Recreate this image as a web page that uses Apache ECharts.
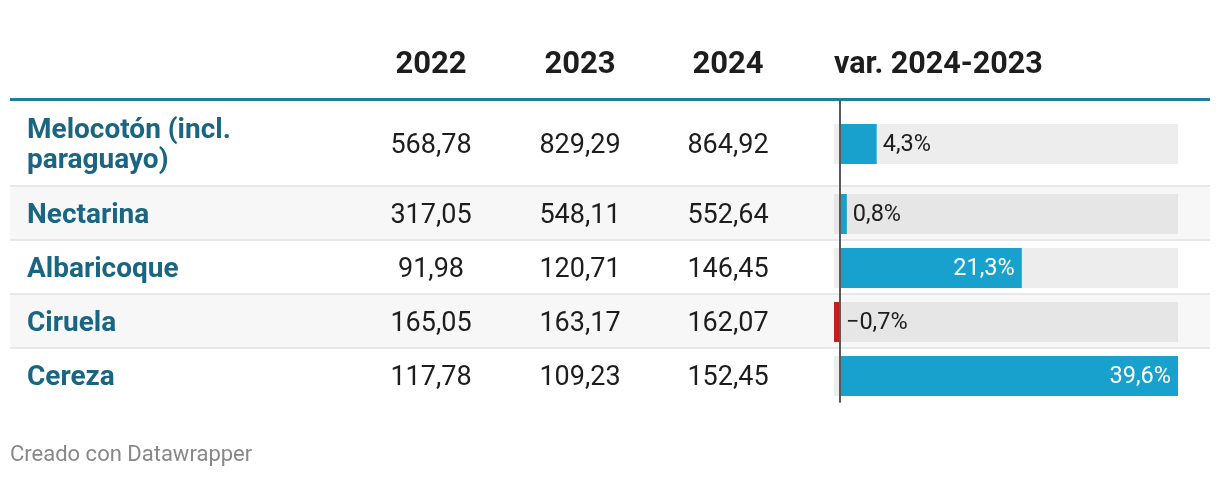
<!DOCTYPE html>
<html>
<head>
<meta charset="utf-8">
<script src="https://cdn.jsdelivr.net/npm/echarts@6/dist/echarts.min.js"></script>
<style>
  html, body { margin: 0; padding: 0; background: #ffffff; }
  #chart { width: 1220px; height: 478px; }
</style>
</head>
<body>
<div id="chart"></div>
<script>
// ---------- data ----------
const products = ['Melocotón (incl. paraguayo)', 'Nectarina', 'Albaricoque', 'Ciruela', 'Cereza'];
const years = ['2022', '2023', '2024'];
const v2022 = [568.78, 317.05, 91.98, 165.05, 117.78];
const v2023 = [829.29, 548.11, 120.71, 163.17, 109.23];
const v2024 = [864.92, 552.64, 146.45, 162.07, 152.45];
const varPct = [4.3, 0.8, 21.3, -0.7, 39.6];
const varHeader = 'var. 2024-2023';
const footer = 'Creado con Datawrapper';

// ---------- layout / style ----------
const FONT = 'Roboto, "Noto Sans", sans-serif';
const LABEL_COLOR = '#1a6581';
const TEXT_COLOR = '#1d1d1d';
const HEADER_LINE = '#1c7f9f';
const BLUE = '#18a1cd';
const RED = '#c71e1d';
const rowHeights = [86, 54, 54, 54, 54];
const tableTop = 101;
const colCenters = [431, 580, 728];
const barLeft = 834, barWidth = 344, barH = 40;
const TEXT_SHIFT = 2;

const rowTops = [];
let acc = tableTop;
rowHeights.forEach(h => { rowTops.push(acc); acc += h; });
const rowCenters = rowTops.map((t, i) => t + rowHeights[i] / 2);
const tableBottom = acc;

const fmt = v => v.toFixed(2).replace('.', ',');
const fmtPct = v => (v < 0 ? '\u2212' : '') + Math.abs(v).toFixed(1).replace('.', ',') + '%';

const xMin = Math.min(...varPct), xMax = Math.max(...varPct);

const graphic = [];
// row backgrounds and separators
rowTops.forEach((t, i) => {
  if (i % 2 === 1) {
    graphic.push({ type: 'rect', z: -10, shape: { x: 10, y: t, width: 1200, height: rowHeights[i] - 2 }, style: { fill: '#f7f7f7' } });
  }
  if (i < products.length - 1) {
    graphic.push({ type: 'rect', z: -10, shape: { x: 10, y: t + rowHeights[i] - 2, width: 1200, height: 2 }, style: { fill: '#e8e8e8' } });
  }
});
// header line
graphic.push({ type: 'rect', shape: { x: 10, y: 98, width: 1200, height: 3 }, style: { fill: HEADER_LINE } });
// header texts
years.forEach((y, j) => {
  graphic.push({ type: 'text', x: colCenters[j], y: 65, style: { text: y, font: 'bold 31px ' + FONT, fill: TEXT_COLOR, align: 'center', verticalAlign: 'middle' } });
});
graphic.push({ type: 'text', x: barLeft, y: 65, style: { text: varHeader, font: 'bold 30.5px ' + FONT, fill: TEXT_COLOR, align: 'left', verticalAlign: 'middle' } });
// row texts
const cols = [v2022, v2023, v2024];
products.forEach((p, i) => {
  graphic.push({ type: 'text', x: 27, y: rowCenters[i] + TEXT_SHIFT, style: { text: p, width: 300, overflow: 'break', lineHeight: 30, font: 'bold 28px ' + FONT, fill: LABEL_COLOR, align: 'left', verticalAlign: 'middle' } });
  cols.forEach((arr, j) => {
    graphic.push({ type: 'text', x: colCenters[j], y: rowCenters[i] + TEXT_SHIFT, style: { text: fmt(arr[i]), font: '27px ' + FONT, fill: TEXT_COLOR, align: 'center', verticalAlign: 'middle' } });
  });
});
// footer
graphic.push({ type: 'text', x: 10, y: 455, style: { text: footer, font: '22px ' + FONT, fill: '#888888', align: 'left', verticalAlign: 'middle' } });

const grid = [], xAxis = [], yAxis = [], series = [];
products.forEach((p, i) => {
  grid.push({ left: barLeft, width: barWidth, top: rowCenters[i] - barH / 2, height: barH });
  xAxis.push({ type: 'value', gridIndex: i, min: xMin, max: xMax, show: false });
  yAxis.push({ type: 'category', gridIndex: i, data: [p], show: false });
  const v = varPct[i];
  const inside = v > 10;
  series.push({
    type: 'bar', xAxisIndex: i, yAxisIndex: i,
    data: [v], barWidth: barH,
    showBackground: true,
    backgroundStyle: { color: i % 2 === 1 ? '#e6e6e6' : '#ededed' },
    itemStyle: { color: v < 0 ? RED : BLUE },
    label: {
      show: true,
      position: inside ? 'insideRight' : 'right',
      distance: inside ? 7 : 6,
      offset: [0, 1],
      formatter: () => fmtPct(v),
      fontFamily: FONT, fontSize: 23.5,
      color: inside ? '#ffffff' : TEXT_COLOR
    },
    silent: true, animation: false
  });
});
// zero baseline spanning all rows
const gi = products.length;
grid.push({ left: barLeft, width: barWidth, top: tableTop, height: tableBottom - tableTop - 1 });
xAxis.push({ type: 'value', gridIndex: gi, min: xMin, max: xMax, show: false });
yAxis.push({ type: 'category', gridIndex: gi, data: products, z: 10,
  axisLine: { show: true, onZero: true, lineStyle: { color: '#5a5a5a', width: 2 } },
  axisTick: { show: false }, axisLabel: { show: false }, splitLine: { show: false } });

const chart = echarts.init(document.getElementById('chart'), null, { renderer: 'canvas' });
chart.setOption({
  animation: false,
  backgroundColor: '#ffffff',
  grid, xAxis, yAxis, series, graphic
});
</script>
</body>
</html>
